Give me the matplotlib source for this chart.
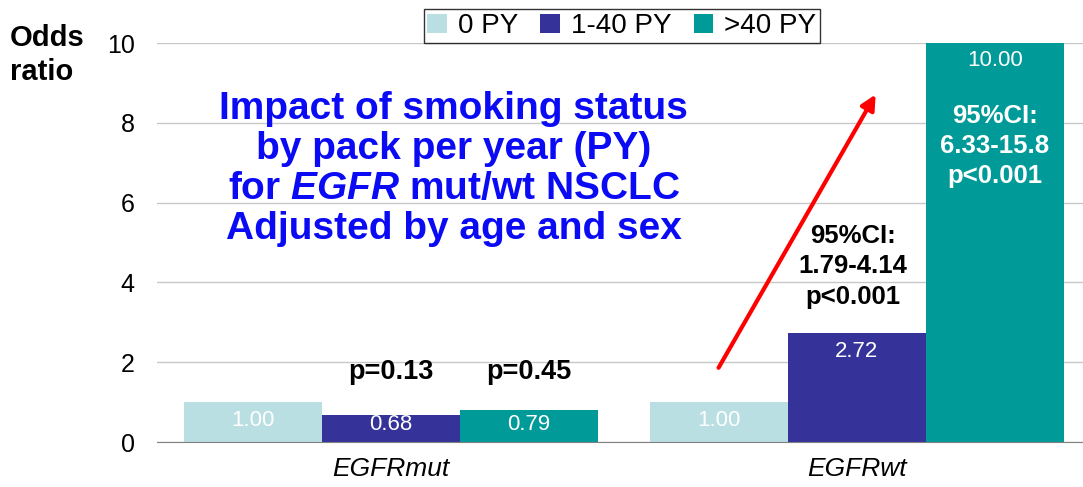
import numpy as np
import matplotlib
matplotlib.use("Agg")
import matplotlib.pyplot as plt

plt.rcParams['font.family'] = ['Liberation Sans', 'DejaVu Sans']
plt.rcParams['mathtext.fontset'] = 'custom'
plt.rcParams['mathtext.it'] = 'Liberation Sans:italic:bold'

groups = ['EGFRmut', 'EGFRwt']
series = ['0 PY', '1-40 PY', '>40 PY']
values = {
    '0 PY':    [1.00, 1.00],
    '1-40 PY': [0.68, 2.72],
    '>40 PY':  [0.79, 10.00],
}
colors = ['#B9DFE3', '#35339A', '#009B98']

fig = plt.figure(figsize=(10.83, 4.87), dpi=100)
ax = fig.add_axes([0.145, 0.0924, 0.855, 0.8193])

x = np.arange(len(groups))
w = 0.296
for k, (name, col) in enumerate(zip(series, colors)):
    pos = x + (k - 1) * w
    bars = ax.bar(pos, values[name], width=w, color=col, label=name, zorder=2)
    for b, v in zip(bars, values[name]):
        # label just under the bar top, but never below a minimum height
        ly = max(v - 0.45, 0.45)
        ax.text(b.get_x() + b.get_width() / 2, ly, f"{v:.2f}",
                ha='center', va='center', color='white', fontsize=16, zorder=3)

ax.set_xlim(-0.502, 1.485)
ax.set_ylim(0, 10)
ax.set_yticks([0, 2, 4, 6, 8, 10])
ax.tick_params(axis='y', length=0, labelsize=18, pad=16)
ax.tick_params(axis='x', length=0, pad=11)
ax.set_xticks(x)
ax.set_xticklabels(groups, fontsize=19, style='italic')
ax.grid(axis='y', color='#C8C8C8', linewidth=1, zorder=0)
for s in ['top', 'right', 'left']:
    ax.spines[s].set_visible(False)
ax.spines['bottom'].set_color('#808080')
ax.spines['bottom'].set_zorder(4)

fig.text(0.009, 0.887, 'Odds\nratio', fontsize=21, fontweight='bold',
         va='center', ha='left', linespacing=1.25)

leg = ax.legend(loc='lower center', bbox_to_anchor=(0.502, 1.0), ncol=3,
                frameon=True, fancybox=False, fontsize=20, handlelength=0.7,
                handleheight=0.7, handletextpad=0.4, columnspacing=0.8,
                borderpad=0.14, borderaxespad=0)
leg.get_frame().set_edgecolor('black')
leg.get_frame().set_linewidth(1)

ax.text(0.135, 6.84,
        'Impact of smoking status\nby pack per year (PY)\nfor $\\mathit{EGFR}$ mut/wt NSCLC\nAdjusted by age and sex',
        ha='center', va='center', fontsize=28, fontweight='bold', color='#0A0AF5',
        linespacing=1.15)

ax.text(0, 1.75, 'p=0.13', ha='center', va='center', fontsize=19.5, fontweight='bold')
ax.text(w, 1.75, 'p=0.45', ha='center', va='center', fontsize=19.5, fontweight='bold')
ax.text(0.991, 4.40, '95%CI:\n1.79-4.14\np<0.001', ha='center', va='center',
        fontsize=18.5, fontweight='bold', linespacing=1.32)
ax.text(1 + w, 7.42, '95%CI:\n6.33-15.8\np<0.001', ha='center', va='center',
        fontsize=18.5, fontweight='bold', color='white', linespacing=1.32, zorder=3)

ax.annotate('', xy=(1.043, 8.77), xytext=(0.70, 1.80),
            arrowprops=dict(arrowstyle='-|>', color='#FF0000', lw=3,
                            mutation_scale=22))

fig.savefig('out.png', dpi=100)
